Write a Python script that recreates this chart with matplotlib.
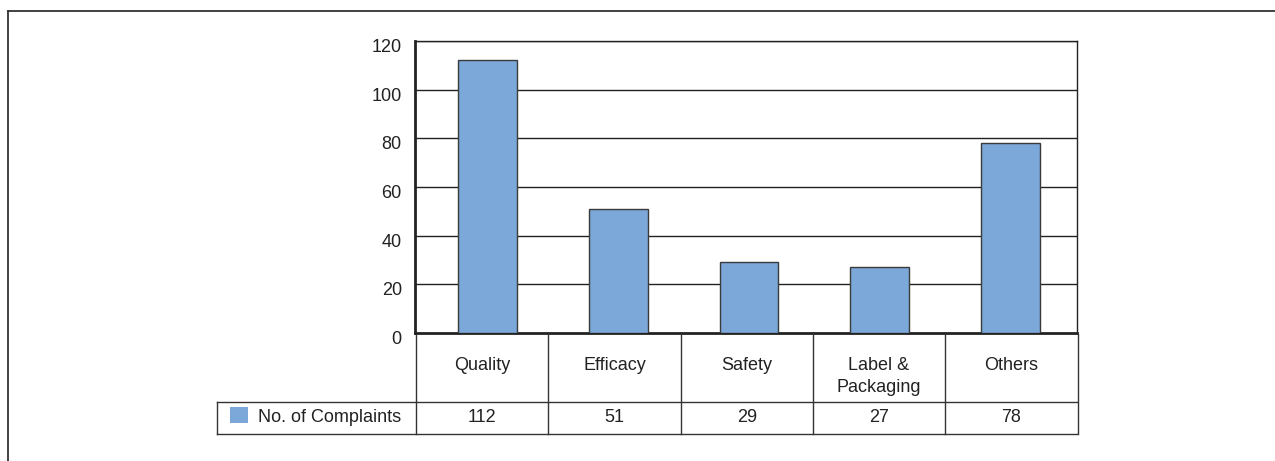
import matplotlib
matplotlib.use("Agg")
import matplotlib.pyplot as plt
from matplotlib.lines import Line2D
from matplotlib.patches import Rectangle
from matplotlib.transforms import blended_transform_factory, ScaledTranslation

plt.rcParams['font.family'] = ['Liberation Sans', 'DejaVu Sans']

categories = ["Quality", "Efficacy", "Safety", "Label &\nPackaging", "Others"]
complaints = [112, 51, 29, 27, 78]
series_name = "No. of Complaints"
y_ticks = [0, 20, 40, 60, 80, 100, 120]

W, H = 1275, 461
fig = plt.figure(figsize=(W / 100, H / 100), dpi=100)

def fx(px):
    return px / W

def fy(py):
    return 1 - py / H

bar_color = "#7BA7D9"
line_color = "#222222"
text_color = "#222222"
fs = 13

# plot area
x0, x1, y_top, y_bot = 415, 1077, 41, 333
ax = fig.add_axes([fx(x0), fy(y_bot), fx(x1) - fx(x0), fy(y_top) - fy(y_bot)])
xs = list(range(len(categories)))
ax.bar(xs, complaints, width=0.451, color=bar_color, edgecolor="#3a3a3a",
       linewidth=1.0, zorder=3)
# bar slots are slightly narrower than the table columns below
slot_px = 130.75
first_center_px = 487.5
left = -(first_center_px - x0) / slot_px
ax.set_xlim(left, left + (x1 - x0) / slot_px)
ax.set_ylim(0, 120)
ax.set_yticks(y_ticks)
ax.set_yticklabels([str(t) for t in y_ticks], fontsize=fs, color=text_color,
                   va="baseline")
ax.tick_params(axis="y", length=0, pad=9.5)
shift = ScaledTranslation(0, -11 / 100, fig.dpi_scale_trans)
for lbl in ax.get_yticklabels():
    lbl.set_transform(lbl.get_transform() + shift)
ax.set_xticks([])
for t in y_ticks[1:]:
    ax.axhline(t, color=line_color, linewidth=1.0, zorder=1)
for side in ("top", "right"):
    ax.spines[side].set_linewidth(1.0)
    ax.spines[side].set_color(line_color)
for side in ("left", "bottom"):
    ax.spines[side].set_linewidth(2.0)
    ax.spines[side].set_color(line_color)

# data table beneath the axis, on its own column scale
tax = fig.add_axes([fx(416), 0, fx(1077.5) - fx(416), 1])
tax.set_xlim(-0.5, len(categories) - 0.5)
tax.axis("off")
tr = blended_transform_factory(tax.transData, fig.transFigure)
row1_top, row1_bot, row2_bot = 334, 402, 434
legend_left = 217
tbl_kw = dict(color="#333333", linewidth=1.0)

for i in range(len(categories) + 1):
    xd = i - 0.5
    fig.add_artist(Line2D([xd, xd], [fy(row1_top), fy(row2_bot)], transform=tr, **tbl_kw))
for yy in (row1_bot, row2_bot):
    fig.add_artist(Line2D([fx(legend_left), fx(x1)], [fy(yy), fy(yy)],
                          transform=fig.transFigure, **tbl_kw))
fig.add_artist(Line2D([fx(legend_left), fx(legend_left)], [fy(row1_bot), fy(row2_bot)],
                      transform=fig.transFigure, **tbl_kw))

head_baseline = 370
line_step = 22.3
val_baseline = 421.5
for i, (cat, val) in enumerate(zip(categories, complaints)):
    for j, part in enumerate(cat.split("\n")):
        fig.text(i, fy(head_baseline + j * line_step), part, transform=tr,
                 ha="center", va="baseline", fontsize=fs, color=text_color)
    fig.text(i, fy(val_baseline), str(val), transform=tr, ha="center",
             va="baseline", fontsize=fs, color=text_color)

# legend key in the row header
fig.add_artist(Rectangle((fx(230), fy(423)), fx(18), fy(407) - fy(423),
                         transform=fig.transFigure, facecolor=bar_color, edgecolor="none"))
fig.text(fx(258), fy(val_baseline), series_name, ha="left", va="baseline",
         fontsize=fs, color=text_color)

# frame along the top and left edges of the figure
fig.add_artist(Line2D([fx(8), 1], [fy(11), fy(11)], transform=fig.transFigure,
                      color="#333333", linewidth=1.3))
fig.add_artist(Line2D([fx(8), fx(8)], [fy(11), 0], transform=fig.transFigure,
                      color="#333333", linewidth=1.3))

fig.savefig("out.png", dpi=100)
